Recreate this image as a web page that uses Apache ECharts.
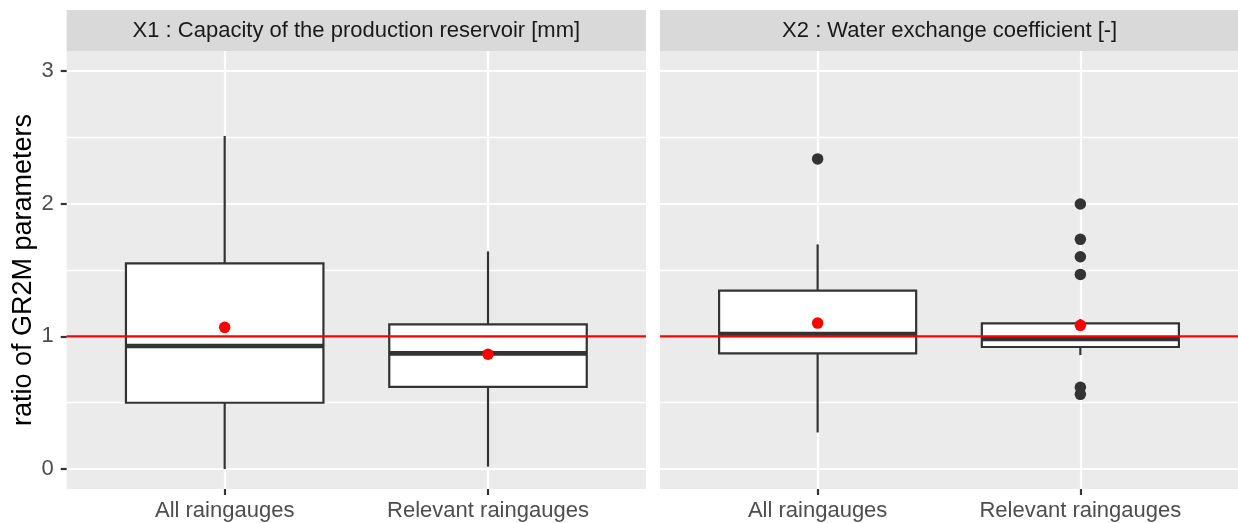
<!DOCTYPE html>
<html>
<head>
<meta charset="utf-8">
<script src="https://cdn.jsdelivr.net/npm/echarts@6/dist/echarts.min.js"></script>
<style>
html,body{margin:0;padding:0;background:#fff;}
#chart{width:1238px;height:523px;}
</style>
</head>
<body>
<div id="chart"></div>
<script>
// ---------- data ----------
const categories = ['All raingauges', 'Relevant raingauges'];
const panelTitles = ['X1 : Capacity of the production reservoir [mm]', 'X2 : Water exchange coefficient [-]'];
const yAxisTitle = 'ratio of GR2M parameters';
// box stats per category: [lower whisker, Q1, median, Q3, upper whisker]
const x1Boxes = [[0.000, 0.500, 0.927, 1.550, 2.510], [0.018, 0.620, 0.872, 1.090, 1.640]];
const x1Means = [1.068, 0.865];
const x1Outliers = [[], []];
const x2Boxes = [[0.276, 0.872, 1.018, 1.344, 1.693], [0.859, 0.920, 0.980, 1.098, 1.131]];
const x2Means = [1.100, 1.083];
const x2Outliers = [[2.337], [1.997, 1.731, 1.600, 1.467, 0.616, 0.563]];
const yMajorTicks = [0, 1, 2, 3];
const yMinorTicks = [0.5, 1.5, 2.5];
const referenceValue = [1];

// ---------- helpers ----------
const FONT = '"Liberation Sans", Arial, sans-serif';
const X_MIN = 0.4, X_MAX = 2.6, Y_MIN = -0.15, Y_MAX = 3.15, BOX_W = 0.75;
const panels = [
  {boxes: x1Boxes, means: x1Means, outliers: x1Outliers},
  {boxes: x2Boxes, means: x2Means, outliers: x2Outliers}
];
const gridPos = [
  {left: 66.7, top: 51, width: 579.3, height: 438},
  {left: 660, top: 51, width: 579.3, height: 438}
];
const catX = categories.map((c, i) => i + 1);

function renderBox(params, api) {
  const x = api.value(0);
  const lo = api.coord([x, api.value(1)]);
  const q1 = api.coord([x, api.value(2)]);
  const med = api.coord([x, api.value(3)]);
  const q3 = api.coord([x, api.value(4)]);
  const hi = api.coord([x, api.value(5)]);
  const w = api.size([BOX_W, 0])[0];
  const cx = lo[0];
  const stroke = '#333333';
  return {
    type: 'group',
    children: [
      {type: 'line', shape: {x1: cx, y1: hi[1], x2: cx, y2: q3[1]}, style: {stroke, lineWidth: 2.2}},
      {type: 'line', shape: {x1: cx, y1: q1[1], x2: cx, y2: lo[1]}, style: {stroke, lineWidth: 2.2}},
      {type: 'rect', shape: {x: cx - w / 2, y: q3[1], width: w, height: q1[1] - q3[1]}, style: {fill: '#ffffff', stroke, lineWidth: 2.2}},
      {type: 'line', shape: {x1: cx - w / 2, y1: med[1], x2: cx + w / 2, y2: med[1]}, style: {stroke, lineWidth: 4.6}}
    ]
  };
}

const grids = [], xAxes = [], yAxes = [], series = [], graphics = [];
panels.forEach((p, k) => {
  const g = gridPos[k];
  grids.push({left: g.left, top: g.top, width: g.width, height: g.height, show: true, backgroundColor: '#EBEBEB', borderWidth: 0});
  xAxes.push({
    type: 'value', gridIndex: k, min: X_MIN, max: X_MAX, position: 'bottom',
    axisLine: {show: false, onZero: false},
    axisTick: {show: true, customValues: catX, length: 6, lineStyle: {color: '#333333', width: 2.2}},
    axisLabel: {show: true, customValues: catX, margin: 11, color: '#4D4D4D', fontSize: 22, fontFamily: FONT,
      formatter: v => categories[Math.round(v) - 1]},
    splitLine: {show: true, lineStyle: {color: '#ffffff', width: 2.2}}
  });
  // major y axis
  yAxes.push({
    type: 'value', gridIndex: k, min: Y_MIN, max: Y_MAX, position: 'left',
    axisLine: {show: false, onZero: false},
    axisTick: {show: k === 0, customValues: yMajorTicks, length: 6, lineStyle: {color: '#333333', width: 2.2}},
    axisLabel: {show: k === 0, customValues: yMajorTicks, margin: 13, color: '#4D4D4D', fontSize: 22, fontFamily: FONT},
    splitLine: {show: true, lineStyle: {color: '#ffffff', width: 2.2}},
    name: k === 0 ? yAxisTitle : '',
    nameLocation: 'middle', nameRotate: 90, nameGap: 30,
    nameTextStyle: {fontSize: 27, color: '#000000', fontFamily: FONT}
  });
  // minor y axis (grid lines only)
  yAxes.push({
    type: 'value', gridIndex: k, min: Y_MIN, max: Y_MAX, position: 'left',
    axisLine: {show: false, onZero: false},
    axisTick: {show: false, customValues: yMinorTicks},
    axisLabel: {show: false, customValues: yMinorTicks},
    splitLine: {show: true, lineStyle: {color: '#ffffff', width: 1.3}}
  });
  const yMajorIdx = k * 2;
  series.push({
    type: 'custom', xAxisIndex: k, yAxisIndex: yMajorIdx, z: 2, silent: true,
    renderItem: renderBox,
    encode: {x: 0, y: [1, 2, 3, 4, 5]},
    data: p.boxes.map((b, i) => [catX[i]].concat(b))
  });
  const outl = [];
  p.outliers.forEach((arr, i) => arr.forEach(v => outl.push([catX[i], v])));
  series.push({
    type: 'scatter', xAxisIndex: k, yAxisIndex: yMajorIdx, z: 2, silent: true,
    symbol: 'circle', symbolSize: 11.5, itemStyle: {color: '#333333', opacity: 1},
    data: outl
  });
  series.push({
    type: 'line', xAxisIndex: k, yAxisIndex: yMajorIdx, z: 3, silent: true,
    symbol: 'none', lineStyle: {color: '#FF0000', width: 2.2},
    data: [[X_MIN, referenceValue[0]], [X_MAX, referenceValue[0]]]
  });
  series.push({
    type: 'scatter', xAxisIndex: k, yAxisIndex: yMajorIdx, z: 4, silent: true,
    symbol: 'circle', symbolSize: 11.5, itemStyle: {color: '#FF0000', opacity: 1},
    data: p.means.map((m, i) => [catX[i], m])
  });
  graphics.push({
    type: 'rect', left: g.left, top: 10, silent: true,
    shape: {width: g.width, height: 41}, style: {fill: '#D9D9D9'}
  });
  graphics.push({
    type: 'text', silent: true,
    x: g.left + g.width / 2, y: 30.5,
    style: {text: panelTitles[k], fill: '#1A1A1A', font: '22px ' + FONT, align: 'center', verticalAlign: 'middle'}
  });
});

const chart = echarts.init(document.getElementById('chart'), null, {renderer: 'canvas'});
chart.setOption({
  backgroundColor: '#ffffff',
  animation: false,
  grid: grids,
  xAxis: xAxes,
  yAxis: yAxes,
  series: series,
  graphic: graphics
});
</script>
</body>
</html>
